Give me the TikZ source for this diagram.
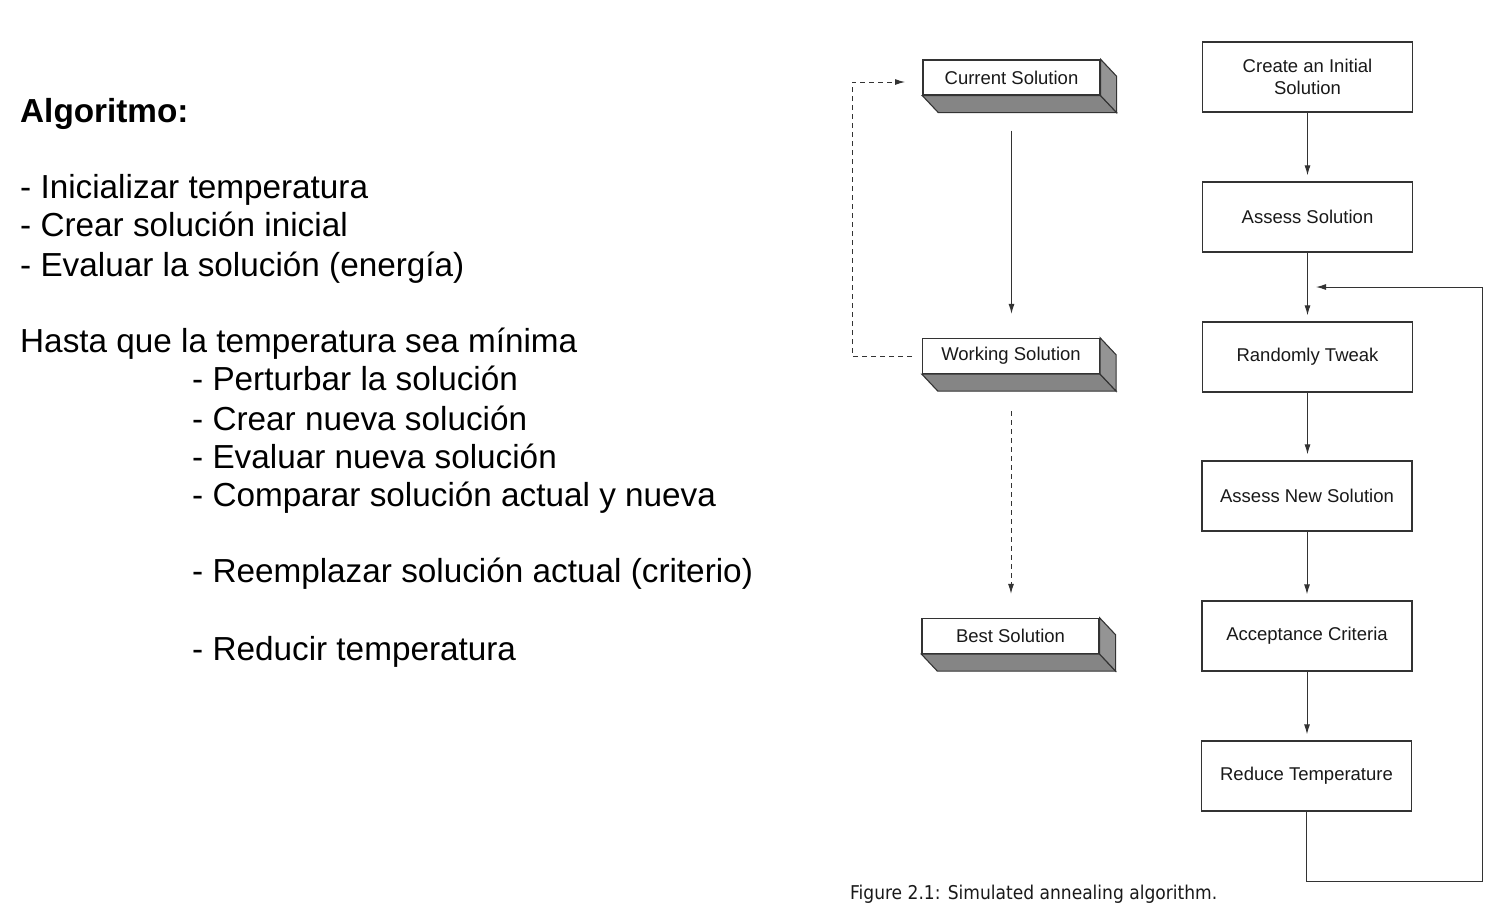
\documentclass[tikz,border=0pt]{standalone}
\usepackage{fontspec}
\setmainfont{Liberation Sans}
\newfontfamily\capfont{DejaVu Sans Condensed}
\usetikzlibrary{arrows.meta}
\definecolor{ln}{HTML}{333333}
\begin{document}
\begin{tikzpicture}[x=1pt,y=-1pt,
  lefttext/.style={anchor=base west,inner sep=0pt,font=\fontsize{33.3}{40}\selectfont},
  flowbox/.style={draw=ln,line width=1.3pt,fill=white,minimum width=210pt,minimum height=70pt,
     align=center,font=\fontsize{18.5}{22}\selectfont,text=black!90,inner sep=2pt},
  solbox/.style={draw=ln,line width=1.3pt,fill=white,minimum width=177pt,minimum height=35pt,
     font=\fontsize{18.5}{22}\selectfont,text=black!90,inner sep=0pt},
  conn/.style={draw=ln,line width=1pt,-{Latex[length=10pt,width=6pt]}},
  dconn/.style={conn,dash pattern=on 5pt off 4pt}
]
\useasboundingbox (0,0) rectangle (1506,916);

% left text
\node[lefttext,font=\fontsize{33.3}{40}\selectfont\bfseries] (t0) at (20,122) {Algoritmo:};
\node[lefttext] (t1) at (20,198) {- Inicializar temperatura};
\node[lefttext] (t2) at (20,236) {- Crear solución inicial};
\node[lefttext] (t3) at (20,276) {- Evaluar la solución (energía)};
\node[lefttext] (t4) at (20,352) {Hasta que la temperatura sea mínima};
\node[lefttext] (t5) at (192,390) {- Perturbar la solución};
\node[lefttext] (t6) at (192,430) {- Crear nueva solución};
\node[lefttext] (t7) at (192,468) {- Evaluar nueva solución};
\node[lefttext] (t8) at (192,506) {- Comparar solución actual y nueva};
\node[lefttext] (t9) at (192,582) {- Reemplazar solución actual (criterio)};
\node[lefttext] (t10) at (192,660) {- Reducir temperatura};

% 3D solution boxes
\foreach \n/\x/\y/\t in {cur/1011.5/77.5/Current Solution, work/1011/356/Working Solution, best/1010.5/636/Best Solution}{
  \node[solbox] (\n) at (\x,\y) {\t};
  \filldraw[draw=ln,line width=1.1pt,fill=black!48] (\n.south west) -- (\n.south east) -- ++(16,17) -- ([shift={(16,17)}]\n.south west) -- cycle;
  \filldraw[draw=ln,line width=1.1pt,fill=black!42] (\n.north east) -- ++(16,17) -- ([shift={(16,17)}]\n.south east) -- (\n.south east) -- cycle;
}

% right flow boxes
\node[flowbox] (init) at (1307.5,77) {Create an Initial\\Solution};
\node[flowbox] (assess) at (1307.5,217) {Assess Solution};
\node[flowbox] (tweak) at (1307.5,357) {Randomly Tweak};
\node[flowbox] (anew) at (1307,496) {Assess New Solution};
\node[flowbox] (accept) at (1307,636) {Acceptance Criteria};
\node[flowbox] (reduce) at (1306.5,776) {Reduce Temperature};

\draw[conn,shorten >=6pt] (init.south) -- (init.south |- assess.north);
\draw[conn,shorten >=6pt] (assess.south) -- (assess.south |- tweak.north);
\draw[conn,shorten >=6pt] (tweak.south) -- (tweak.south |- anew.north);
\draw[conn,shorten >=6pt] (anew.south) -- (anew.south |- accept.north);
\draw[conn,shorten >=6pt] (accept.south) -- (accept.south |- reduce.north);

\coordinate (lp1) at (1306.5,881);
\coordinate (lp2) at (1482,881);
\coordinate (lp3) at (1482,287);
\coordinate (lp4) at (1316,287);
\draw[conn] (reduce.south) -- (lp1) -- (lp2) -- (lp3) -- (lp4);

% left column connectors
\draw[conn,shorten <=35pt,shorten >=24pt] (cur.south) -- (cur.south |- work.north);
\draw[dconn,shorten <=37pt,shorten >=24pt] (work.south) -- (work.south |- best.north);
\coordinate (fb0) at (912,356);
\coordinate (fb1) at (852,356);
\coordinate (fb2) at (852,82);
\coordinate (fb3) at (905,82);
\draw[dconn] (fb0) -- (fb1) -- (fb2) -- (fb3);

% caption
\node[anchor=base west,inner sep=0pt,font=\capfont\fontsize{19}{22}\selectfont,text=black!90] (cap) at (850,899) {Figure 2.1: Simulated annealing algorithm.};
\end{tikzpicture}
\end{document}
